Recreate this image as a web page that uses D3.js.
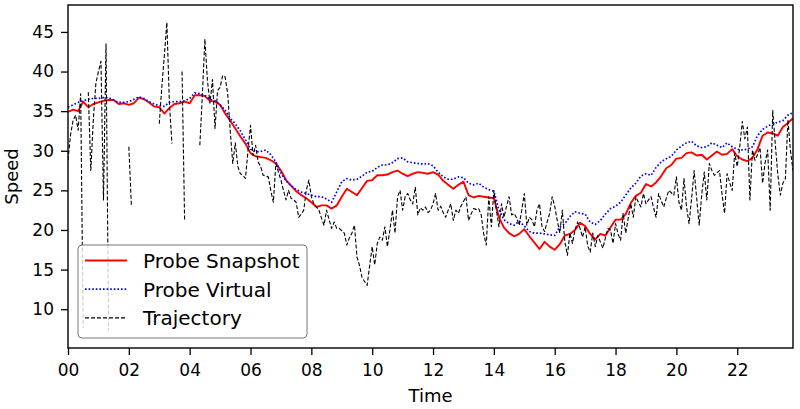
<!DOCTYPE html>
<html>
<head>
<meta charset="utf-8">
<script src="https://cdn.jsdelivr.net/npm/d3@7"></script>
<style>
  html, body { margin: 0; padding: 0; background: #fff; }
  svg { display: block; font-family: "DejaVu Sans", sans-serif; }
</style>
</head>
<body>
<svg id="chart" width="800" height="409"></svg>
<script>
// ---- Data ----
// probe series: 10-minute samples from 00:00 to 23:50
// trajectory: 5-minute samples from 00:00 to 23:50 (null = no data)
const probeStepMinutes = 10;
const trajStepMinutes = 5;
const xTickHours = [0, 2, 4, 6, 8, 10, 12, 14, 16, 18, 20, 22];
const xTickLabels = ["00", "02", "04", "06", "08", "10", "12", "14", "16", "18", "20", "22"];
const yTicks = [10, 15, 20, 25, 30, 35, 40, 45];
const seriesNames = ["Probe Snapshot", "Probe Virtual", "Trajectory"];

const probeSnapshot = [
  34.9, 35.2, 35.0, 36.2, 35.5, 35.9, 36.1, 36.3, 36.4, 36.4, 35.9, 36.0,
  35.8, 36.0, 36.7, 36.5, 36.1, 35.6, 35.5, 34.7, 35.4, 35.9, 36.0, 36.2,
  36.0, 37.0, 37.0, 36.9, 36.3, 36.2, 35.8, 34.7, 33.8, 32.8, 31.8, 30.9,
  29.7, 29.3, 29.2, 29.1, 28.8, 28.4, 27.5, 26.3, 25.6, 24.9, 24.4, 24.0,
  23.5, 22.9, 23.1, 23.1, 22.7, 23.1, 24.2, 25.2, 24.8, 24.4, 25.3, 26.2,
  26.3, 26.9, 26.9, 27.0, 27.3, 27.5, 27.1, 26.8, 27.1, 27.3, 27.2, 27.1,
  27.3, 27.0, 26.2, 25.7, 25.2, 25.7, 26.1, 24.4, 24.1, 24.3, 24.2, 24.1,
  24.0, 21.6, 20.3, 19.6, 19.2, 19.5, 20.1, 19.2, 18.4, 17.6, 18.5, 17.9,
  17.5, 18.2, 19.3, 19.5, 20.0, 20.9, 20.5, 19.5, 18.8, 19.5, 19.3, 20.3,
  21.3, 21.3, 22.0, 23.4, 24.3, 24.7, 25.8, 25.5, 26.0, 26.8, 27.8, 28.2,
  29.0, 29.1, 29.7, 29.8, 29.4, 29.5, 28.9, 29.4, 29.9, 29.5, 29.6, 30.2,
  29.3, 28.9, 28.7, 29.1, 30.2, 31.9, 32.3, 32.2, 31.9, 33.0, 33.5, 34.1
];

const probeVirtual = [
  35.5, 35.8, 36.1, 36.3, 36.5, 36.6, 36.6, 36.7, 36.7, 36.4, 36.1, 36.1,
  36.2, 36.5, 36.8, 36.6, 36.2, 35.9, 35.7, 35.6, 36.1, 36.2, 36.2, 36.3,
  36.6, 37.3, 37.2, 37.0, 36.5, 36.3, 35.8, 35.1, 34.1, 33.4, 32.5, 31.4,
  30.2, 29.9, 29.9, 30.1, 29.5, 28.6, 27.2, 26.2, 25.6, 25.1, 24.8, 24.6,
  24.4, 24.2, 24.2, 23.9, 23.5, 24.8, 26.1, 26.5, 26.3, 26.4, 26.8, 27.3,
  27.4, 27.9, 28.2, 28.2, 28.5, 29.0, 29.1, 28.6, 28.5, 28.4, 28.3, 28.4,
  28.1, 27.3, 26.7, 26.4, 26.4, 26.7, 26.6, 25.9, 25.7, 25.9, 25.4, 25.1,
  24.9, 22.5, 21.3, 20.8, 20.6, 21.1, 20.5, 19.8, 19.6, 19.6, 19.5, 19.4,
  19.3, 20.4, 20.8, 21.7, 22.3, 22.1, 22.0, 21.0, 20.7, 21.2, 22.0, 22.7,
  23.0, 23.5, 24.4, 25.3, 25.9, 26.8, 27.1, 26.9, 27.9, 28.6, 29.0, 29.3,
  30.1, 30.6, 31.0, 31.2, 30.6, 30.4, 30.5, 31.0, 30.7, 30.4, 31.0, 30.5,
  30.2, 30.1, 30.2, 30.5, 31.9, 32.7, 33.1, 33.4, 33.6, 33.8, 34.5, 34.8
];

const trajectory = [
  28.8, 32.0, 33.8, 34.5, 32.6, 37.2, 7.6, null, 37.4, 27.5, 34.0, 38.5,
  40.0, 41.3, 23.8, 43.5, 7.3, null, null, null, null, null, null, null,
  30.5, 23.1, null, null, null, null, null, null, null, null, null, null,
  33.4, 38.0, 42.0, 46.2, 36.0, 30.9, null, null, null, 40.0, 21.2, null,
  null, null, null, null, 30.7, 37.0, 44.1, 38.9, 36.0, 39.0, 32.8, 37.6,
  38.0, 39.5, 39.3, 37.2, 32.5, 28.4, 31.0, 28.0, 27.1, 26.9, 26.5, 30.0,
  33.2, 29.4, 30.7, 28.6, 28.0, 26.9, 26.8, 26.7, 25.0, 23.5, 28.4, 27.3,
  26.3, 25.0, 23.8, 25.0, 24.0, 23.8, 23.5, 21.6, 22.0, 22.5, 25.0, 26.3,
  24.2, 23.3, 22.9, 22.5, 21.5, 20.6, 22.5, 21.3, 20.2, 21.0, 20.2, 20.2,
  19.9, 19.6, 18.1, 19.0, 19.6, 20.6, 16.6, 15.5, 14.0, 13.5, 13.0, 15.5,
  17.9, 15.6, 18.3, 19.1, 18.7, 20.4, 17.9, 20.0, 22.5, 19.6, 24.2, 25.0,
  22.5, 24.2, 24.6, 23.8, 23.3, 25.4, 21.9, 22.8, 22.5, 22.9, 22.2, 22.5,
  23.3, 24.6, 22.5, 23.0, 22.2, 21.6, 22.5, 23.3, 21.2, 22.5, 22.1, 23.0,
  23.6, 24.2, 21.2, 22.0, 22.7, 22.6, 22.7, 21.9, 19.5, 18.1, 24.2, 20.4,
  25.0, 22.5, 20.4, 23.3, 21.6, 23.0, 24.2, 21.9, 22.1, 21.5, 20.6, 22.5,
  24.6, 20.6, 21.6, 21.3, 20.4, 22.5, 23.3, 20.4, 19.8, 21.0, 22.1, 24.2,
  23.0, 21.2, 19.6, 22.5, 18.5, 16.8, 19.6, 18.3, 20.0, 21.0, 20.2, 19.1,
  20.4, 18.0, 17.2, 19.6, 17.9, 19.3, 18.5, 17.7, 19.0, 20.2, 20.0, 18.3,
  20.8, 19.5, 18.7, 22.1, 19.6, 21.5, 23.3, 21.6, 24.2, 23.5, 22.9, 24.6,
  23.3, 23.8, 24.2, 22.8, 21.6, 24.6, 23.7, 22.9, 24.0, 25.0, 24.7, 24.4,
  26.7, 23.5, 22.5, 26.5, 22.9, 20.8, 24.0, 27.5, 24.0, 20.6, 24.5, 27.3,
  23.8, 28.4, 27.5, 26.9, 27.2, 27.5, 24.5, 22.1, 27.1, 26.0, 25.0, 29.7,
  28.0, 30.5, 33.7, 31.5, 33.0, 23.8, 30.1, 28.8, 29.5, 30.4, 25.9, 28.5,
  30.1, 22.5, 35.1, 30.9, 27.0, 24.4, 25.9, 26.5, 33.9, 30.0, 27.5
];

// ---- Layout ----
const W = 800, H = 409;
const margin = { left: 68, right: 7, top: 5, bottom: 61 };
const plotW = W - margin.left - margin.right;
const plotH = H - margin.top - margin.bottom;

const lastHour = (probeSnapshot.length - 1) * probeStepMinutes / 60;

const x = d3.scaleLinear().domain([0, lastHour]).range([0, plotW]);
const y = d3.scaleLinear().domain([5.1, 48.4]).range([plotH, 0]);

const svg = d3.select("#chart");
const g = svg.append("g").attr("transform", `translate(${margin.left},${margin.top})`);

g.append("defs").append("clipPath").attr("id", "clip")
  .append("rect").attr("width", plotW).attr("height", plotH);

const plot = g.append("g").attr("clip-path", "url(#clip)");

const lineGen = d3.line()
  .defined(d => d.v !== null)
  .x(d => x(d.h))
  .y(d => y(d.v));

const toPts = (arr, step) => arr.map((v, i) => ({ h: i * step / 60, v }));

const styles = [
  { data: probeSnapshot, step: probeStepMinutes, color: "#ff0000", width: 1.9, dash: null },
  { data: probeVirtual, step: probeStepMinutes, color: "#0000ff", width: 1.7, dash: "1.6,2.0" },
  { data: trajectory, step: trajStepMinutes, color: "#000000", width: 1.1, dash: "4,2" }
];

styles.forEach(s => {
  plot.append("path")
    .datum(toPts(s.data, s.step))
    .attr("fill", "none")
    .attr("stroke", s.color)
    .attr("stroke-width", s.width)
    .attr("stroke-dasharray", s.dash)
    .attr("stroke-linejoin", "round")
    .attr("d", lineGen);
});

// ---- Axes ----
const xAxis = d3.axisBottom(x)
  .tickValues(xTickHours)
  .tickFormat((d, i) => xTickLabels[i])
  .tickSize(7).tickSizeOuter(0).tickPadding(9);
const yAxis = d3.axisLeft(y)
  .tickValues(yTicks)
  .tickSize(7).tickSizeOuter(0).tickPadding(7);

const gx = g.append("g").attr("transform", `translate(0,${plotH})`).call(xAxis);
const gy = g.append("g").call(yAxis);
[gx, gy].forEach(a => {
  a.select(".domain").remove();
  a.selectAll(".tick line").attr("stroke", "#000").attr("stroke-width", 1.3);
  a.selectAll(".tick text").attr("fill", "#000")
    .style("font-family", "'DejaVu Sans', sans-serif").style("font-size", "17px");
});

// frame
g.append("rect").attr("width", plotW).attr("height", plotH)
  .attr("fill", "none").attr("stroke", "#000").attr("stroke-width", 1.4);

// axis labels
g.append("text")
  .attr("x", plotW / 2).attr("y", plotH + 54)
  .attr("text-anchor", "middle")
  .style("font-size", "18px").attr("fill", "#000")
  .text("Time");
g.append("text")
  .attr("transform", `translate(${18 - margin.left},${plotH / 2}) rotate(-90)`)
  .attr("text-anchor", "middle")
  .style("font-size", "18px").attr("fill", "#000")
  .text("Speed");

// ---- Legend ----
const leg = g.append("g").attr("transform", `translate(${78 - margin.left},${245 - margin.top})`);
leg.append("rect")
  .attr("width", 229).attr("height", 93).attr("rx", 4).attr("ry", 4)
  .attr("fill", "#fff").attr("fill-opacity", 0.8)
  .attr("stroke", "#777").attr("stroke-width", 1);
styles.forEach((s, i) => {
  const cy = 15.5 + i * 28.7;
  leg.append("line")
    .attr("x1", 7).attr("x2", 49).attr("y1", cy).attr("y2", cy)
    .attr("stroke", s.color).attr("stroke-width", s.width)
    .attr("stroke-dasharray", s.dash);
  leg.append("text")
    .attr("x", 65).attr("y", cy + 7.5)
    .style("font-size", "20px").attr("fill", "#000")
    .text(seriesNames[i]);
});
</script>
</body>
</html>
